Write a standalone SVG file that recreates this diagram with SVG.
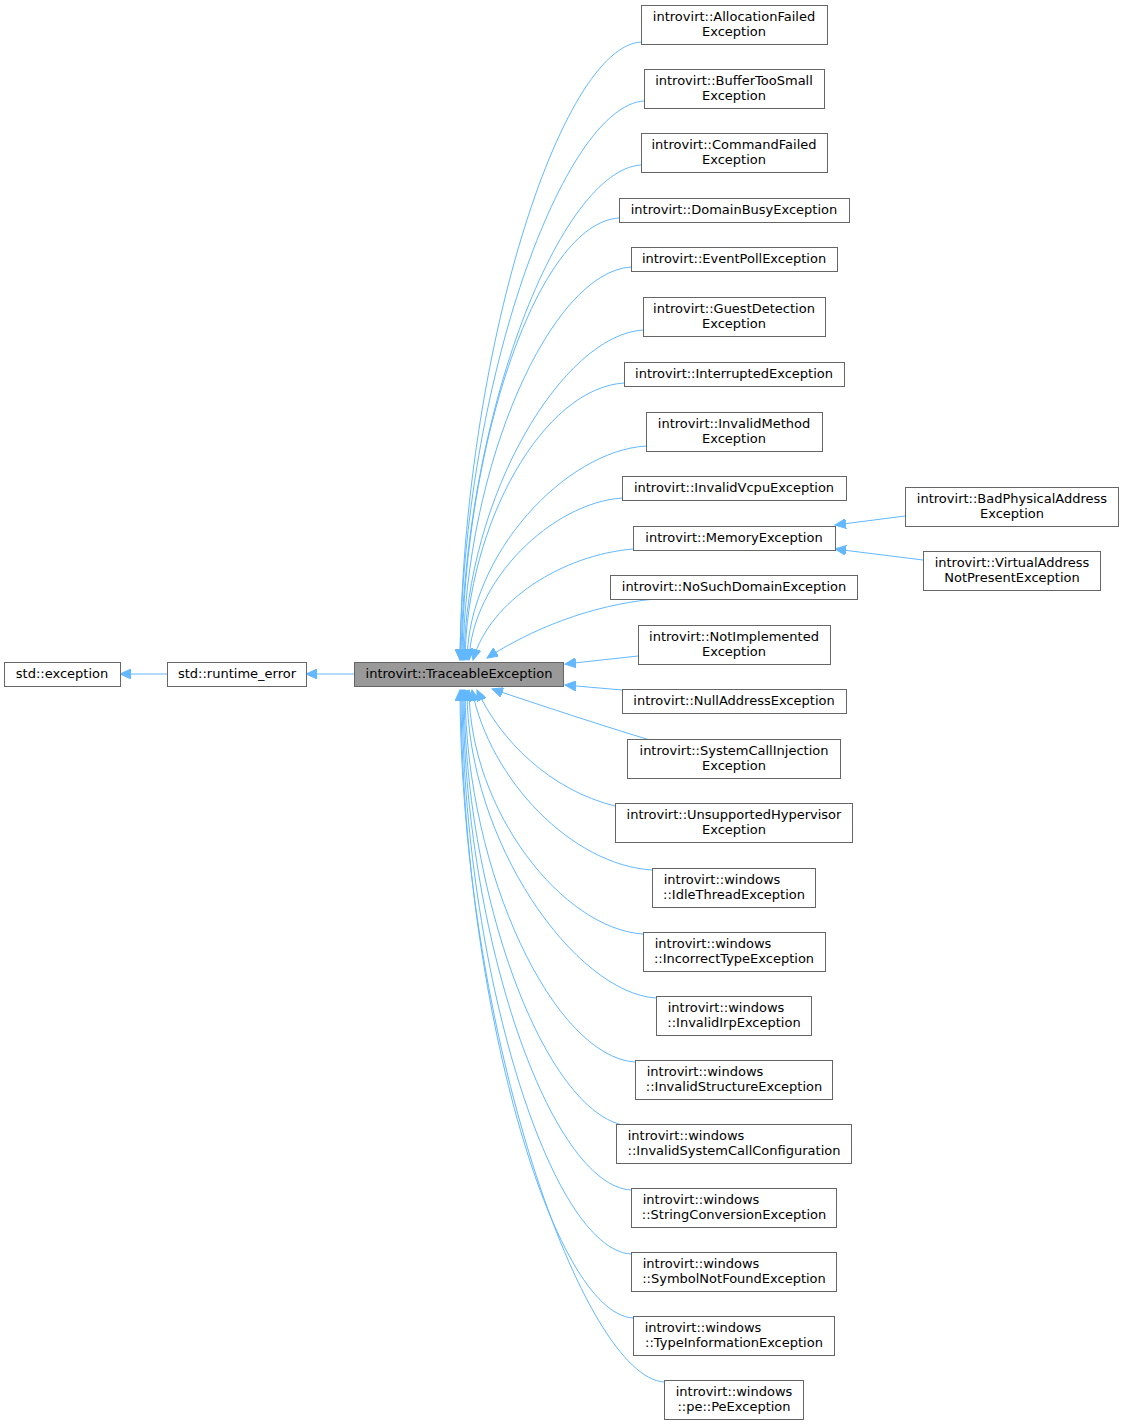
<svg xmlns="http://www.w3.org/2000/svg" width="1124" height="1425" viewBox="0 0 1124 1425">
<style>
rect{fill:#fff;stroke:#666;stroke-width:1}
text{font-family:"DejaVu Sans",sans-serif;font-size:13px;text-anchor:middle;fill:#000}
#edges path{fill:none;stroke:#63b8ff;stroke-width:1;marker-end:url(#a)}
</style>
<defs><marker id="a" markerUnits="userSpaceOnUse" markerWidth="12" markerHeight="10" refX="11" refY="5" orient="auto"><path d="M0,0 L11,5 L0,10 z" fill="#63b8ff" stroke="#63b8ff"/></marker></defs>
<rect width="1124" height="1425" style="fill:#fff;stroke:none"/>
<g id="edges">
<path d="M167,674 L120,674"/>
<path d="M354,674 L306,674"/>
<path d="M641,42 C561,47 463,351 460,660"/>
<path d="M644,101 C564,106 463,381 460,660"/>
<path d="M641,165 C561,170 464,413 461,660"/>
<path d="M619,218 C539,223 464,440 462,660"/>
<path d="M631,267 C551,272 465,464 463,660"/>
<path d="M643,330 C563,335 466,495 464,660"/>
<path d="M624,383 C544,388 467,522 465,660"/>
<path d="M646,446 C566,451 469,553 467,660"/>
<path d="M622,498 C552,503 472,580 469,660"/>
<path d="M633,549 C563,555 490,600 473,660"/>
<path d="M655,599 C590,605 530,630 487,658"/>
<path d="M638,656 L565,664"/>
<path d="M622,690 L565,685"/>
<path d="M650,740 C600,725 540,705 492,689"/>
<path d="M615,806 C550,790 500,740 477,690"/>
<path d="M652,870 C572,865 490,780 472,690"/>
<path d="M643,934 C563,929 470,811 469,690"/>
<path d="M656,998 C576,993 467,843 467,690"/>
<path d="M635,1062 C555,1057 466,875 465,690"/>
<path d="M630,1126 C550,1121 465,907 464,690"/>
<path d="M631,1190 C551,1185 464,939 463,690"/>
<path d="M631,1254 C551,1249 463,971 462,690"/>
<path d="M633,1318 C553,1313 462,1003 461,690"/>
<path d="M664,1382 C584,1377 461,1035 460,690"/>
<path d="M905,516 L835,525"/>
<path d="M923,560 L835,549"/>
</g>
<g id="n0"><rect x="4.5" y="662.5" width="116" height="24"/><text x="62" y="678">std::exception</text></g>
<g id="n1"><rect x="167.5" y="662.5" width="139" height="24"/><text x="237" y="678">std::runtime_error</text></g>
<g id="n2"><rect x="354.5" y="662.5" width="209" height="24" style="fill:#999"/><text x="459" y="678">introvirt::TraceableException</text></g>
<g id="n3"><rect x="641.5" y="5.5" width="186" height="39"/><text x="734" y="21">introvirt::AllocationFailed</text><text x="734" y="36">Exception</text></g>
<g id="n4"><rect x="644.5" y="69.5" width="180" height="39"/><text x="734" y="85">introvirt::BufferTooSmall</text><text x="734" y="100">Exception</text></g>
<g id="n5"><rect x="641.5" y="133.5" width="186" height="39"/><text x="734" y="149">introvirt::CommandFailed</text><text x="734" y="164">Exception</text></g>
<g id="n6"><rect x="619.5" y="198.5" width="230" height="24"/><text x="734" y="214">introvirt::DomainBusyException</text></g>
<g id="n7"><rect x="631.5" y="247.5" width="206" height="24"/><text x="734" y="263">introvirt::EventPollException</text></g>
<g id="n8"><rect x="643.5" y="297.5" width="182" height="39"/><text x="734" y="313">introvirt::GuestDetection</text><text x="734" y="328">Exception</text></g>
<g id="n9"><rect x="624.5" y="362.5" width="220" height="24"/><text x="734" y="378">introvirt::InterruptedException</text></g>
<g id="n10"><rect x="646.5" y="412.5" width="176" height="39"/><text x="734" y="428">introvirt::InvalidMethod</text><text x="734" y="443">Exception</text></g>
<g id="n11"><rect x="622.5" y="476.5" width="224" height="24"/><text x="734" y="492">introvirt::InvalidVcpuException</text></g>
<g id="n12"><rect x="633.5" y="526.5" width="202" height="24"/><text x="734" y="542">introvirt::MemoryException</text></g>
<g id="n13"><rect x="610.5" y="575.5" width="247" height="24"/><text x="734" y="591">introvirt::NoSuchDomainException</text></g>
<g id="n14"><rect x="638.5" y="625.5" width="192" height="39"/><text x="734" y="641">introvirt::NotImplemented</text><text x="734" y="656">Exception</text></g>
<g id="n15"><rect x="622.5" y="689.5" width="224" height="24"/><text x="734" y="705">introvirt::NullAddressException</text></g>
<g id="n16"><rect x="627.5" y="739.5" width="213" height="39"/><text x="734" y="755">introvirt::SystemCallInjection</text><text x="734" y="770">Exception</text></g>
<g id="n17"><rect x="615.5" y="803.5" width="237" height="39"/><text x="734" y="819">introvirt::UnsupportedHypervisor</text><text x="734" y="834">Exception</text></g>
<g id="n18"><rect x="652.5" y="868.5" width="163" height="39"/><text x="722" y="884">introvirt::windows</text><text x="734" y="899">::IdleThreadException</text></g>
<g id="n19"><rect x="643.5" y="932.5" width="182" height="39"/><text x="713" y="948">introvirt::windows</text><text x="734" y="963">::IncorrectTypeException</text></g>
<g id="n20"><rect x="656.5" y="996.5" width="155" height="39"/><text x="726" y="1012">introvirt::windows</text><text x="734" y="1027">::InvalidIrpException</text></g>
<g id="n21"><rect x="635.5" y="1060.5" width="197" height="39"/><text x="705" y="1076">introvirt::windows</text><text x="734" y="1091">::InvalidStructureException</text></g>
<g id="n22"><rect x="616.5" y="1124.5" width="235" height="39"/><text x="686" y="1140">introvirt::windows</text><text x="734" y="1155">::InvalidSystemCallConfiguration</text></g>
<g id="n23"><rect x="631.5" y="1188.5" width="205" height="39"/><text x="701" y="1204">introvirt::windows</text><text x="734" y="1219">::StringConversionException</text></g>
<g id="n24"><rect x="631.5" y="1252.5" width="205" height="39"/><text x="701" y="1268">introvirt::windows</text><text x="734" y="1283">::SymbolNotFoundException</text></g>
<g id="n25"><rect x="633.5" y="1316.5" width="201" height="39"/><text x="703" y="1332">introvirt::windows</text><text x="734" y="1347">::TypeInformationException</text></g>
<g id="n26"><rect x="664.5" y="1380.5" width="139" height="39"/><text x="734" y="1396">introvirt::windows</text><text x="734" y="1411">::pe::PeException</text></g>
<g id="n27"><rect x="905.5" y="487.5" width="213" height="39"/><text x="1012" y="503">introvirt::BadPhysicalAddress</text><text x="1012" y="518">Exception</text></g>
<g id="n28"><rect x="923.5" y="551.5" width="177" height="39"/><text x="1012" y="567">introvirt::VirtualAddress</text><text x="1012" y="582">NotPresentException</text></g>
</svg>
